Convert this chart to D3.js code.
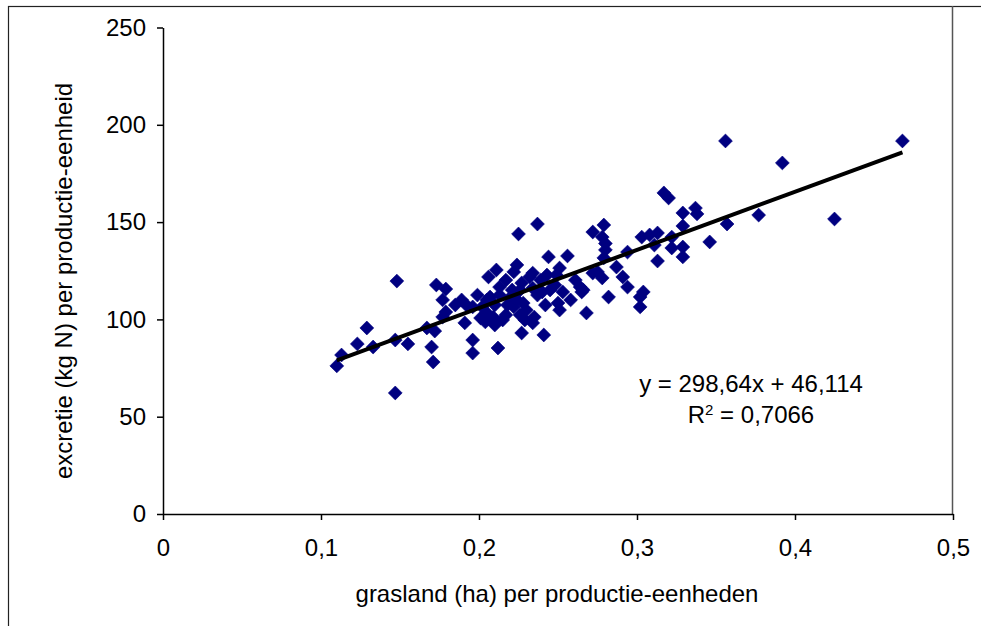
<!DOCTYPE html>
<html>
<head>
<meta charset="utf-8">
<script src="https://cdn.jsdelivr.net/npm/d3@7"></script>
<style>
  body { margin: 0; background: #fff; }
  svg { display: block; }
  text { font-family: "Liberation Sans", Arial, sans-serif; fill: #000; }
</style>
</head>
<body>
<svg id="chart" width="981" height="626"></svg>
<script>
// Grassland area (ha) per production unit, one entry per farm
const grasland = [
  0.110, 0.113, 0.123, 0.129, 0.133, 0.147, 0.148, 0.147, 0.155, 0.167,
  0.172, 0.170, 0.171, 0.173, 0.179, 0.177, 0.179, 0.177, 0.191, 0.192,
  0.196, 0.196, 0.196, 0.202, 0.205, 0.209, 0.212, 0.206, 0.211, 0.207,
  0.213, 0.205, 0.213, 0.222, 0.224, 0.225, 0.237, 0.227, 0.232, 0.234,
  0.240, 0.243, 0.244, 0.256, 0.251, 0.249, 0.220, 0.224, 0.228, 0.230,
  0.235, 0.234, 0.227, 0.241, 0.217, 0.222, 0.250, 0.251, 0.253, 0.264,
  0.266, 0.268, 0.275, 0.278, 0.272, 0.279, 0.278, 0.280, 0.279, 0.282,
  0.287, 0.291, 0.294, 0.294, 0.302, 0.302, 0.303, 0.308, 0.313, 0.311,
  0.313, 0.322, 0.322, 0.329, 0.329, 0.317, 0.320, 0.329, 0.337, 0.338,
  0.329, 0.346, 0.357, 0.356, 0.377, 0.392, 0.425, 0.468, 0.304, 0.237,
  0.265, 0.234, 0.272, 0.185, 0.189, 0.199, 0.201, 0.204, 0.210, 0.215,
  0.218, 0.210, 0.226, 0.229, 0.221, 0.217, 0.226, 0.242, 0.245, 0.239,
  0.248, 0.258, 0.261, 0.280
];

// Nitrogen excretion (kg N) per production unit, same order as grasland
const excretie = [
   76.1,  81.7,  87.4,  95.6,  85.8,  89.4, 119.7,  62.2,  87.4,  95.6,
   94.0,  85.8,  78.1, 117.7, 115.6, 110.0, 103.8, 101.2,  98.2, 107.4,
  106.4,  89.4,  82.7, 106.4, 103.3, 101.2,  85.3, 121.8, 125.4, 111.5,
  112.5, 110.0, 116.6, 124.4, 128.0, 143.9, 149.0, 118.7, 121.8, 116.1,
  114.1, 122.8, 132.1, 132.6, 126.4, 122.8, 111.5, 110.0, 108.4, 104.8,
  101.2,  98.2,  93.0,  92.0, 102.3, 106.4, 108.4, 104.8, 114.1, 116.6,
  115.1, 103.3, 124.4, 121.3, 144.9, 148.5, 142.3, 135.7, 131.6, 111.5,
  126.9, 121.8, 116.6, 134.6, 111.5, 106.4, 142.3, 143.4, 144.4, 138.2,
  130.0, 142.3, 136.7, 137.2, 132.1, 165.0, 162.4, 154.7, 157.2, 154.2,
  148.0, 139.8, 149.0, 191.7, 153.6, 180.4, 151.6, 191.7, 114.1, 112.5,
  114.1, 123.8, 123.8, 107.4, 110.0, 112.5, 100.7,  98.7,  97.1,  99.7,
  107.4, 107.4, 102.3,  99.7, 115.1, 120.2, 115.1, 107.4, 115.1, 120.2,
  117.7, 110.0, 120.2, 139.0
];

const xTicks = [0, 0.1, 0.2, 0.3, 0.4, 0.5];
const yTicks = [0, 50, 100, 150, 200, 250];

// Linear trend line and its fit statistic
const slope = 298.64;
const intercept = 46.114;
const equationLabel = "y = 298,64x + 46,114";
const r2Label = "0,7066";

const xTitle = "grasland (ha) per productie-eenheden";
const yTitle = "excretie (kg N) per productie-eenheid";

const points = grasland.map((g, i) => ({ x: g, y: excretie[i] }));

const svg = d3.select("#chart");
const fontSize = 24;
const comma = d => String(d).replace(".", ",");

const x = d3.scaleLinear().domain([0, 0.5]).range([163, 953]);
const y = d3.scaleLinear().domain([0, 250]).range([514, 27.5]);

// Chart frame
svg.append("rect")
  .attr("x", 8.5).attr("y", 6.5)
  .attr("width", 1200).attr("height", 800)
  .attr("fill", "none").attr("stroke", "#222").attr("stroke-width", 1.2);

// Right edge of the plot area
svg.append("line")
  .attr("x1", 952.5).attr("x2", 952.5)
  .attr("y1", 6).attr("y2", 514)
  .attr("stroke", "#555").attr("stroke-width", 1.5);

// Axes
const yAxis = svg.append("g")
  .attr("transform", `translate(${x(0)},0)`)
  .call(d3.axisLeft(y).tickValues(yTicks).tickSize(6).tickSizeOuter(0)
    .tickPadding(11).tickFormat(comma));

const xAxis = svg.append("g")
  .attr("transform", `translate(0,${y(0)})`)
  .call(d3.axisBottom(x).tickValues(xTicks).tickSize(6).tickSizeOuter(0)
    .tickPadding(19).tickFormat(comma));

[yAxis, xAxis].forEach(g => {
  g.selectAll("path, line").attr("stroke", "#000").attr("stroke-width", 1.5);
  g.selectAll("text")
    .style("font-family", '"Liberation Sans", Arial, sans-serif')
    .style("font-size", fontSize + "px")
    .attr("fill", "#000");
});

// Data markers: navy diamonds
svg.append("g")
  .selectAll("path")
  .data(points)
  .join("path")
  .attr("d", d3.symbol(d3.symbolSquare, 96))
  .attr("transform", d => `translate(${x(d.x)},${y(d.y)}) rotate(45)`)
  .attr("fill", "#000080")
  .attr("stroke", "#000080")
  .attr("stroke-width", 0.6);

// Trend line across the observed range
const [xMin, xMax] = d3.extent(grasland);
const trend = [xMin, xMax].map(v => ({ x: v, y: slope * v + intercept }));
svg.append("path")
  .datum(trend)
  .attr("d", d3.line().x(d => x(d.x)).y(d => y(d.y)))
  .attr("fill", "none")
  .attr("stroke", "#000")
  .attr("stroke-width", 4);

// Equation and R² annotation
svg.append("text")
  .attr("x", 751).attr("y", 392)
  .attr("text-anchor", "middle")
  .style("font-size", fontSize + "px")
  .text(equationLabel);

const r2 = svg.append("text")
  .attr("x", 751).attr("y", 423)
  .attr("text-anchor", "middle")
  .style("font-size", fontSize + "px");
r2.append("tspan").text("R");
r2.append("tspan").attr("dy", -8).style("font-size", "15px").text("2");
r2.append("tspan").attr("dy", 8).text(" = " + r2Label);

// Axis titles
svg.append("text")
  .attr("x", 557).attr("y", 602)
  .attr("text-anchor", "middle")
  .style("font-size", fontSize + "px")
  .text(xTitle);

svg.append("text")
  .attr("transform", "translate(72,281) rotate(-90)")
  .attr("text-anchor", "middle")
  .style("font-size", fontSize + "px")
  .text(yTitle);
</script>
</body>
</html>
